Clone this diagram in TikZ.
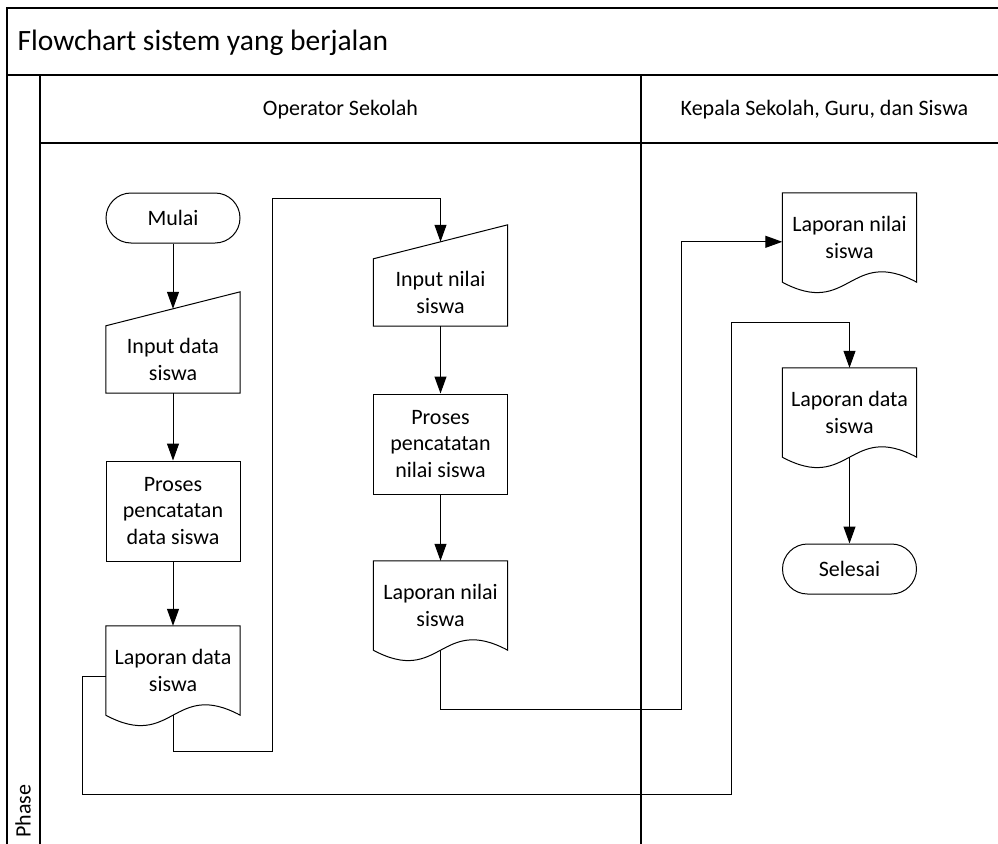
\documentclass[tikz,border=0pt]{standalone}
\usepackage{fontspec}
\setmainfont{Carlito}
\usetikzlibrary{arrows.meta,calc}
\tikzset{
  frameline/.style={line width=1.1pt},
  box/.style={draw=none, minimum width=134pt, align=center, inner sep=0pt,
    font=\fontsize{22}{26.5}\selectfont},
  termbox/.style={box, draw, line width=1pt, minimum height=50pt, rounded corners=25pt},
  procbox/.style={box, draw, line width=1pt, minimum height=100pt},
  docbox/.style={box, minimum height=89pt},
  inbox/.style={box, minimum height=67pt},
  shapeline/.style={line width=1pt},
  flow/.style={line width=1pt, -{Triangle[width=12pt,length=17pt]}},
  lanetext/.style={font=\fontsize{22}{26}\selectfont},
}
\begin{document}
\begin{tikzpicture}[x=1pt,y=-1pt]
\useasboundingbox (0,0) rectangle (998,843);
% swimlane frame
\draw[frameline] (1010,8) -- (7,8) -- (7,850);
\draw[frameline] (7,75) -- (1010,75);
\draw[frameline] (40,75) -- (40,850);
\draw[frameline] (641,75) -- (641,850);
\draw[frameline] (40,143) -- (1010,143);
\node[anchor=west, font=\fontsize{29.5}{34}\selectfont] (title) at (14,43) {Flowchart sistem yang berjalan};
\node[lanetext] (lane1) at (340.5,110) {Operator Sekolah};
\node[lanetext] (lane2) at (824.5,110) {Kepala Sekolah, Guru, dan Siswa};
\node[lanetext, rotate=90] (phase) at (23,811) {Phase};

% nodes
\node[termbox] (mulai) at (173,218) {Mulai};
\node[inbox] (in1) at (173,359.5) {Input data\\siswa};
\node[procbox] (pr1) at (173,511) {Proses\\pencatatan\\data siswa};
\node[docbox] (doc1) at (173,670.5) {Laporan data\\siswa};
\node[inbox] (in2) at (440.5,292.5) {Input nilai\\siswa};
\node[procbox] (pr2) at (440.5,444) {Proses\\pencatatan\\nilai siswa};
\node[docbox] (doc2) at (440.5,605.5) {Laporan nilai\\siswa};
\node[docbox] (doc4) at (849.5,237.5) {Laporan nilai\\siswa};
\node[docbox] (doc3) at (849.5,412.5) {Laporan data\\siswa};
\node[termbox] (sel) at (849.5,569) {Selesai};

% custom outlines
\foreach \n in {doc1,doc2,doc3,doc4}
  \draw[shapeline] (\n.north west) -- (\n.north east) -- (\n.south east)
    .. controls ($(\n.south)+(0,-36)$) and ($(\n.south)+(0,36)$) .. (\n.south west) -- cycle;
\foreach \n in {in1,in2}
  \draw[shapeline] (\n.north west) -- ($(\n.north east)+(0,-34)$) -- (\n.south east) -- (\n.south west) -- cycle;
\coordinate (in1top) at ($(in1.north)+(0,-17)$);
\coordinate (in2top) at ($(in2.north)+(0,-17)$);

% routing points
\coordinate (a1) at (272,751);
\coordinate (a2) at (440.5,198);
\coordinate (b0) at ($(doc1.north west)+(0,51)$);
\coordinate (b1) at (82,794);
\coordinate (b2) at (731,322);
\coordinate (c1) at (681,709);
\coordinate (c2) at ($(doc4.north west)+(0,49)$);

% connectors
\draw[flow] (mulai) -- (in1top);
\draw[flow] (in1) -- (pr1);
\draw[flow] (pr1) -- (doc1);
\draw[flow] (doc1.south) |- (a1) |- (a2) -- (in2top);
\draw[flow] (in2) -- (pr2);
\draw[flow] (pr2) -- (doc2);
\draw[flow] (doc2.south) |- (c1) |- (c2);
\draw[flow] (b0) -| (b1) -| (b2) -| (doc3.north);
\draw[flow] (doc3.south) -- (sel);
\end{tikzpicture}
\end{document}
